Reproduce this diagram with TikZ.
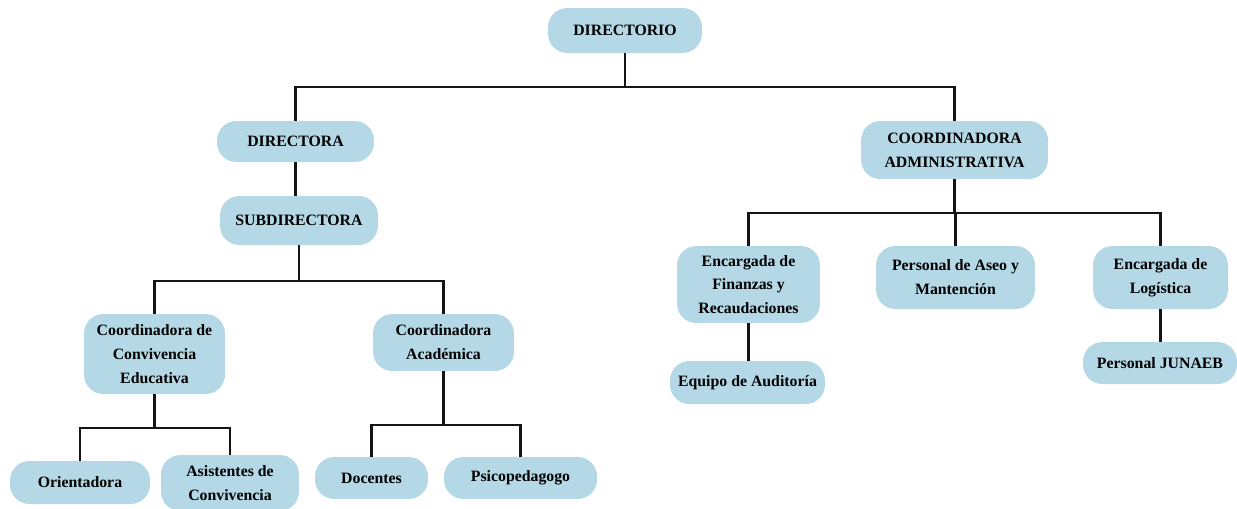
\documentclass[tikz,border=0pt]{standalone}
\usepackage{fontspec}
\setmainfont{Liberation Serif}
\usetikzlibrary{positioning}

\definecolor{boxblue}{RGB}{180,216,229}
\definecolor{linegray}{RGB}{20,20,20}

\tikzset{
	box/.style={draw=none, fill=boxblue, rounded corners=11pt, align=center,
		inner sep=2pt, font=\bfseries\fontsize{9}{13.6}\selectfont},
	link/.style={draw=linegray, line width=1.6pt, line join=miter}
}

\begin{document}
\begin{tikzpicture}[x=0.02cm, y=-0.02cm]
	
	\useasboundingbox (0,0) rectangle (1237,508);
	
	% top level
	\node[box, minimum width=3.08cm, minimum height=0.9cm] (dir) at (625,30.5) {DIRECTORIO};
	
	% left branch
	\node[box, minimum width=3.14cm, minimum height=0.82cm] (dra) at (295.5,141.5) {DIRECTORA};
	\node[box, minimum width=3.16cm, minimum height=0.98cm] (sub) at (299,220.5) {SUBDIRECTORA};
	\node[box, minimum width=2.82cm, minimum height=1.6cm] (conv) at (154.5,354) {Coordinadora de\\Convivencia\\Educativa};
	\node[box, minimum width=2.82cm, minimum height=1.14cm] (acad) at (443.5,342.5) {Coordinadora\\Académica};
	\node[box, minimum width=2.8cm, minimum height=0.86cm] (ori) at (80,482.5) {Orientadora};
	\node[box, minimum width=2.76cm, minimum height=1.12cm] (asis) at (230,483) {Asistentes de\\Convivencia};
	\node[box, minimum width=2.26cm, minimum height=0.84cm] (doc) at (371.5,478) {Docentes};
	\node[box, minimum width=3.06cm, minimum height=0.84cm] (psi) at (520.5,478) {Psicopedagogo};
	
	% right branch
	\node[box, minimum width=3.74cm, minimum height=1.16cm] (adm) at (954.5,150) {COORDINADORA\\ADMINISTRATIVA};
	\node[box, minimum width=2.86cm, minimum height=1.54cm] (fin) at (748.5,284.5) {Encargada de\\Finanzas y\\Recaudaciones};
	\node[box, minimum width=3.18cm, minimum height=1.26cm] (aseo) at (955.5,277.5) {Personal de Aseo y\\Mantención};
	\node[box, minimum width=2.7cm, minimum height=1.26cm] (log) at (1160.5,277.5) {Encargada de\\Logística};
	\node[box, minimum width=3.1cm, minimum height=0.86cm] (aud) at (747.5,382.5) {Equipo de Auditoría};
	\node[box, minimum width=3.08cm, minimum height=0.84cm] (jun) at (1160,363) {Personal JUNAEB};
	
	% junction points
	\coordinate (j0) at (625,87);
	\coordinate (j1) at (299,281);
	\coordinate (j2) at (154.5,428);
	\coordinate (j3) at (443.5,425);
	\coordinate (j4) at (954.5,213);
	
	% connectors
	\draw[link] (dir.south) -- (j0);
	\draw[link] (dra.north) |- (j0) -| (adm.north);
	\draw[link] (dra.south) -- (dra.south |- sub.north);
	
	\draw[link] (sub.south) -- (j1);
	\draw[link] (conv.north) |- (j1) -| (acad.north);
	
	\draw[link] (conv.south) -- (j2);
	\draw[link] (ori.north) |- (j2) -| (asis.north);
	
	\draw[link] (acad.south) -- (j3);
	\draw[link] (doc.north) |- (j3) -| (psi.north);
	
	\draw[link] (adm.south) -- (j4);
	\draw[link] (fin.north) |- (j4) -| (log.north);
	\draw[link] (aseo.north) -- (aseo.north |- j4);
	
	\draw[link] (fin.south) -- (fin.south |- aud.north);
	\draw[link] (log.south) -- (log.south |- jun.north);
	
\end{tikzpicture}
\end{document}
